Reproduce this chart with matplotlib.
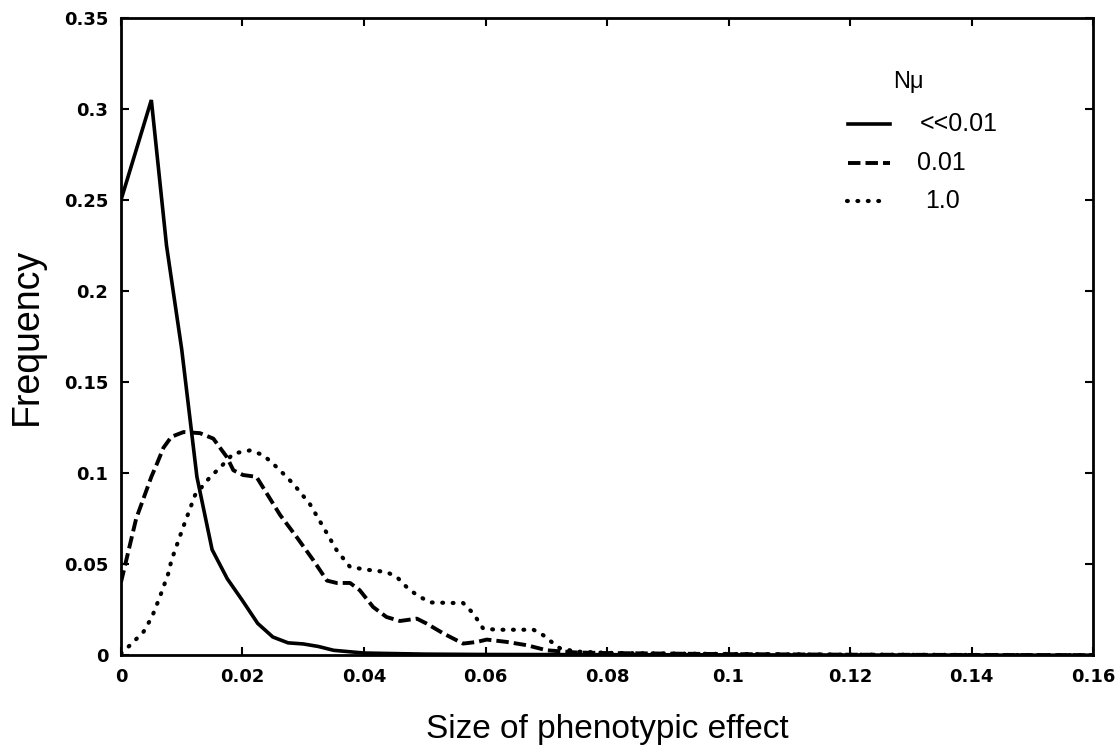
import matplotlib
matplotlib.use("Agg")
import matplotlib.pyplot as plt

# Distribution of phenotypic effect sizes for three values of N*mu
x_rare = [0.0, 0.005, 0.0075, 0.01, 0.0125, 0.015, 0.0175, 0.02, 0.0225, 0.025,
          0.0275, 0.03, 0.0325, 0.035, 0.04, 0.05, 0.06, 0.08, 0.1, 0.12, 0.16]
y_rare = [0.25, 0.305, 0.225, 0.168, 0.098, 0.058, 0.042, 0.030, 0.0175, 0.010,
          0.0068, 0.0062, 0.0048, 0.0027, 0.0012, 0.0006, 0.0004, 0.0003, 0.0002, 0.0001, 0.0]

x_mid = [0.0, 0.0025, 0.005, 0.0059, 0.007, 0.0083, 0.0103, 0.013, 0.0152, 0.0163,
         0.0174, 0.0185, 0.0201, 0.0223, 0.0262, 0.0289, 0.0317, 0.0339, 0.0355,
         0.0377, 0.0393, 0.0415, 0.0437, 0.0459, 0.0487, 0.0503, 0.0531, 0.0563,
         0.0586, 0.0602, 0.0635, 0.0668, 0.0701, 0.075, 0.08, 0.09, 0.1, 0.12, 0.16]
y_mid = [0.040, 0.075, 0.098, 0.105, 0.114, 0.120, 0.1226, 0.122, 0.119, 0.114,
         0.109, 0.1016, 0.099, 0.098, 0.077, 0.065, 0.052, 0.041, 0.0397,
         0.0397, 0.0357, 0.0265, 0.021, 0.0188, 0.0201, 0.0174, 0.0119, 0.0064,
         0.0073, 0.0086, 0.0073, 0.0055, 0.0027, 0.0015, 0.0012, 0.0009, 0.0006, 0.0003, 0.0]

x_high = [0.0, 0.0015, 0.0037, 0.0051, 0.0064, 0.0078, 0.0083, 0.0102, 0.0122,
          0.0147, 0.0163, 0.0185, 0.0212, 0.0234, 0.0251, 0.0267, 0.0284, 0.0311,
          0.0333, 0.0355, 0.0377, 0.0404, 0.0437, 0.0454, 0.047, 0.0487, 0.0509,
          0.0547, 0.0563, 0.058, 0.0596, 0.0618, 0.0646, 0.0679, 0.0695, 0.0712,
          0.0723, 0.075, 0.08, 0.09, 0.1, 0.11, 0.12, 0.16]
y_high = [0.001, 0.0055, 0.0128, 0.021, 0.032, 0.045, 0.052, 0.070, 0.088,
          0.098, 0.103, 0.1108, 0.1125, 0.110, 0.105, 0.0998, 0.094, 0.083,
          0.0704, 0.0577, 0.0485, 0.047, 0.0457, 0.043, 0.0375, 0.033, 0.029,
          0.0287, 0.0287, 0.0229, 0.0147, 0.014, 0.014, 0.014, 0.011, 0.0064,
          0.0037, 0.002, 0.0013, 0.0009, 0.0007, 0.0005, 0.0003, 0.0]

series_labels = ["<<0.01", "0.01", "1.0"]
legend_title = "N\u03bc"
x_ticks = [0, 0.02, 0.04, 0.06, 0.08, 0.1, 0.12, 0.14, 0.16]
x_tick_labels = ["0", "0.02", "0.04", "0.06", "0.08", "0.1", "0.12", "0.14", "0.16"]
y_ticks = [0, 0.05, 0.1, 0.15, 0.2, 0.25, 0.3, 0.35]
y_tick_labels = ["0", "0.05", "0.1", "0.15", "0.2", "0.25", "0.3", "0.35"]

fig = plt.figure(figsize=(11.2, 7.54), dpi=100)
ax = fig.add_axes([0.108, 0.131, 0.868, 0.845])

solid_kw = dict(color="black", lw=2.6, solid_joinstyle="miter")
dash_kw = dict(color="black", lw=2.8, linestyle=(0, (3.2, 1.3)))
dot_kw = dict(color="black", lw=3.0, linestyle=(0, (0.2, 2.3)), dash_capstyle="round")
styles = [solid_kw, dash_kw, dot_kw]

for xs, ys, kw in zip([x_rare, x_mid, x_high], [y_rare, y_mid, y_high], styles):
    ax.plot(xs, ys, **kw)

ax.set_xlim(0, 0.16)
ax.set_ylim(0, 0.35)
ax.set_xticks(x_ticks)
ax.set_xticklabels(x_tick_labels)
ax.set_yticks(y_ticks)
ax.set_yticklabels(y_tick_labels)
ax.tick_params(direction="in", length=6, width=1.5, top=True, right=True,
               labelsize=13, pad=9)
for lab in ax.get_xticklabels() + ax.get_yticklabels():
    lab.set_family("DejaVu Sans")
    lab.set_fontweight("bold")
for sp in ax.spines.values():
    sp.set_linewidth(2.0)

ax.set_xlabel("Size of phenotypic effect", fontsize=24, family="Liberation Sans",
              labelpad=20)
ax.set_ylabel("Frequency", fontsize=27, family="Liberation Sans", labelpad=14)

# Key drawn in axes-fraction coordinates
key_rows = [0.834, 0.772, 0.713]
key_handle_x = [(0.748, 0.791), (0.748, 0.791), (0.747, 0.784)]
key_text_x = [0.822, 0.819, 0.827]
ax.text(0.81, 0.90, legend_title, transform=ax.transAxes, ha="center", va="center",
        fontsize=17, family="Liberation Sans")
for row, (hx0, hx1), tx, label, kw in zip(key_rows, key_handle_x, key_text_x,
                                          series_labels, styles):
    ax.plot([hx0, hx1], [row, row], transform=ax.transAxes, **kw)
    ax.text(tx, row, label, transform=ax.transAxes, ha="left", va="center",
            fontsize=18, family="Liberation Sans")

fig.savefig("out.png", dpi=100)
